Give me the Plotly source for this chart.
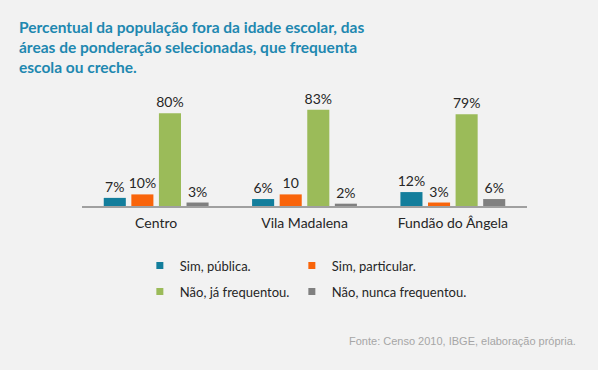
import plotly.graph_objects as go

categories = ["Centro", "Vila Madalena", "Fundão do Ângela"]
series_names = ["Sim, pública.", "Sim, particular.", "Não, já frequentou.", "Não, nunca frequentou."]
sim_publica = [7, 6, 12]
sim_particular = [10, 10, 3]
nao_ja = [80, 83, 79]
nao_nunca = [3, 2, 6]
labels_publica = ["7%", "6%", "12%"]
labels_particular = ["10%", "10", "3%"]
labels_ja = ["80%", "83%", "79%"]
labels_nunca = ["3%", "2%", "6%"]

colors = ["#137e9c", "#f9640a", "#9bbb59", "#808080"]
values = [sim_publica, sim_particular, nao_ja, nao_nunca]
labels = [labels_publica, labels_particular, labels_ja, labels_nunca]
legend_slots = ["legend", "legend2", "legend", "legend2"]

fig = go.Figure()
for name, vals, labs, col in zip(series_names, values, labels, colors):
    fig.add_trace(go.Bar(
        x=categories, y=vals, name=name, text=labs, textposition="outside",
        constraintext="none",
        textfont=dict(family="Lato", size=14, color="#262626"),
        marker=dict(color=col, line=dict(width=0)), cliponaxis=False,
        showlegend=False, hoverinfo="skip",
    ))
for i, (name, col, slot) in enumerate(zip(series_names, colors, legend_slots)):
    fig.add_trace(go.Scatter(
        x=[None], y=[None], mode="markers", name=name, legend=slot,
        legendgroup="g%d" % i,
        marker=dict(symbol="square", size=7, color=col),
    ))

title_text = ("Percentual da população fora da idade escolar, das<br>"
              "áreas de ponderação selecionadas, que frequenta<br>"
              "escola ou creche.")

legend_common = dict(orientation="v", yanchor="top", xanchor="left",
                     traceorder="grouped", tracegroupgap=6,
                     font=dict(family="Lato", size=13, color="#262626"),
                     bgcolor="rgba(0,0,0,0)")

fig.update_layout(
    width=598, height=370,
    paper_bgcolor="#f2f2f2", plot_bgcolor="#f2f2f2",
    margin=dict(l=82, r=71, t=90, b=164),
    font=dict(family="Lato", size=14, color="#262626"),
    title=dict(text=title_text, x=19/598, xanchor="left", xref="container",
               y=1-33/370, yanchor="top", yref="container",
               font=dict(family="Lato", size=15.5, color="#1e88b0", weight="bold")),
    barmode="group", bargap=0.256, bargroupgap=0.2,
    xaxis=dict(showline=True, linecolor="#a0a0a0", linewidth=1.5, ticks="",
               ticklabelstandoff=3,
               tickfont=dict(family="Lato", size=14, color="#262626"), showgrid=False),
    yaxis=dict(range=[0, 100], visible=False, showgrid=False, zeroline=False),
    legend=dict(x=0.13, y=-0.385, **legend_common),
    legend2=dict(x=0.13 + 152/445, y=-0.385, **legend_common),
    annotations=[dict(text="Fonte: Censo 2010, IBGE, elaboração própria.",
                      xref="paper", yref="paper", x=(578-82)/445, y=(206-341)/116,
                      xanchor="right", yanchor="middle", showarrow=False,
                      font=dict(family="Liberation Sans", size=11, color="#a6a6a6"))],
)

fig.write_html("out.html", config={"displayModeBar": False},
               post_script="document.body.style.margin='0';")
